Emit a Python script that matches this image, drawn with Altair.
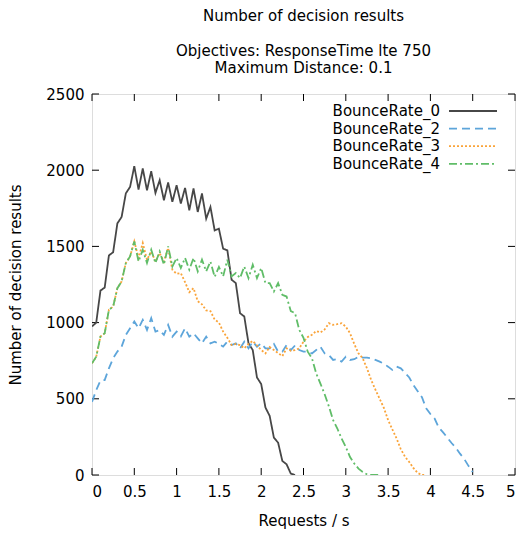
import altair as alt
import pandas as pd

# ---------------- data ----------------
STEP = 0.05
series_names = ["BounceRate_0", "BounceRate_2", "BounceRate_3", "BounceRate_4"]

br0 = [975, 1000, 1210, 1230, 1441, 1462, 1651, 1693, 1848, 1890,
       2026, 1873, 2011, 1868, 1993, 1851, 1934, 1803, 1919, 1792,
       1901, 1781, 1884, 1737, 1880, 1726, 1847, 1682, 1759, 1605,
       1616, 1485, 1474, 1281, 1259, 1062, 1040, 864, 820, 640,
       597, 443, 388, 245, 212, 92, 70, 9, 0]

br2 = [480, 557, 620, 623, 700, 766, 810, 842, 919, 963,
       1007, 963, 1018, 952, 1029, 941, 950, 919, 985, 908,
       941, 910, 963, 908, 930, 897, 864, 908, 864, 875,
       860, 842, 875, 853, 864, 831, 875, 831, 875, 842,
       864, 831, 831, 860, 809, 809, 853, 820, 850, 820,
       809, 809, 798, 820, 842, 798, 787, 755, 760, 744,
       776, 755, 760, 776, 770, 770, 766, 755, 744, 730,
       711, 690, 711, 700, 670, 640, 590, 550, 510, 437,
       400, 370, 310, 280, 245, 210, 180, 140, 105, 60, 20]

br3 = [733, 776, 908, 930, 1084, 1105, 1226, 1270, 1391, 1434,
       1533, 1424, 1522, 1413, 1467, 1401, 1456, 1401, 1490, 1347,
       1320, 1325, 1265, 1200, 1226, 1140, 1120, 1080, 1075, 1020,
       1000, 941, 900, 853, 860, 853, 831, 860, 880, 850,
       820, 798, 840, 820, 800, 780, 831, 815, 820, 831,
       875, 905, 920, 945, 935, 955, 996, 985, 990, 996,
       974, 930, 860, 798, 766, 700, 623, 560, 500, 440,
       360, 300, 240, 170, 120, 85, 45, 13, 0, 0]

br4 = [733, 776, 908, 930, 1084, 1105, 1226, 1270, 1391, 1434,
       1533, 1401, 1478, 1391, 1478, 1391, 1467, 1380, 1500, 1368,
       1424, 1358, 1424, 1347, 1424, 1336, 1413, 1336, 1401, 1300,
       1365, 1303, 1413, 1303, 1325, 1292, 1368, 1292, 1380, 1292,
       1358, 1259, 1259, 1204, 1259, 1182, 1171, 1075, 1062, 952,
       900, 809, 766, 667, 600, 530, 450, 360, 305, 239,
       184, 118, 75, 42, 20, 5, 0, 0, 0]

series_values = [br0, br2, br3, br4]
colors = ["#474747", "#5DA5DA", "#FAA43A", "#60BD68"]
dashes = [[1, 0], [8, 5], [2, 2], [8, 3, 2, 3]]

x_ticks = [0, 0.5, 1, 1.5, 2, 2.5, 3, 3.5, 4, 4.5, 5]
y_ticks = [0, 500, 1000, 1500, 2000, 2500]

title_main = "Number of decision results"
title_sub = ["Objectives: ResponseTime lte 750", "Maximum Distance: 0.1"]

# ---------------- layout ----------------
W, H = 423, 381
FONT = "DejaVu Sans"
FS = 15
TICK = 7

xs = alt.Scale(domain=[0, 5], nice=False, zero=False)
ys = alt.Scale(domain=[0, 2500], nice=False, zero=False)

frames = []
for name, vals in zip(series_names, series_values):
    frames.append(pd.DataFrame({
        "x": [round(i * STEP, 2) for i in range(len(vals))],
        "y": vals,
        "series": name,
    }))

layers = []
base_axes = alt.Chart(pd.DataFrame({"x": [0], "y": [0]})).mark_point(opacity=0).encode(
    x=alt.X("x:Q", scale=xs, axis=alt.Axis(
        values=x_ticks, format="~g", ticks=False, tickSize=0, domain=False, grid=False,
        labelFont=FONT, labelFontSize=FS, labelColor="black", labelPadding=9,
        title="Requests / s", titleFont=FONT, titleFontSize=FS, titleFontWeight="normal",
        titleColor="black", titleY=45, titleBaseline="middle")),
    y=alt.Y("y:Q", scale=ys, axis=alt.Axis(
        values=y_ticks, format="d", ticks=False, tickSize=0, domain=False, grid=False,
        labelFont=FONT, labelFontSize=FS, labelColor="black", labelPadding=8,
        title="Number of decision results", titleFont=FONT, titleFontSize=FS,
        titleFontWeight="normal", titleColor="black", titleX=-77, titleY=H / 2,
        titleBaseline="middle", titleAlign="center")),
)
layers.append(base_axes)

# inward ticks on all four sides
xt = pd.DataFrame({"v": x_ticks})
yt = pd.DataFrame({"v": y_ticks})
layers.append(alt.Chart(xt).mark_rule(color="black", strokeWidth=1).encode(
    x=alt.X("v:Q", scale=xs), y=alt.value(H), y2=alt.value(H - TICK)))
layers.append(alt.Chart(xt).mark_rule(color="black", strokeWidth=1).encode(
    x=alt.X("v:Q", scale=xs), y=alt.value(0), y2=alt.value(TICK)))
layers.append(alt.Chart(yt).mark_rule(color="black", strokeWidth=1).encode(
    y=alt.Y("v:Q", scale=ys), x=alt.value(0), x2=alt.value(TICK)))
layers.append(alt.Chart(yt).mark_rule(color="black", strokeWidth=1).encode(
    y=alt.Y("v:Q", scale=ys), x=alt.value(W), x2=alt.value(W - TICK)))

# data lines
for df, c, d in zip(frames, colors, dashes):
    layers.append(alt.Chart(df).mark_line(color=c, strokeWidth=1.8, strokeDash=d,
                                          clip=True).encode(
        x=alt.X("x:Q", scale=xs), y=alt.Y("y:Q", scale=ys), order="x:Q"))

# legend (label left, line sample right, like gnuplot)
LX_TEXT, LX1, LX2, LY0, LDY = 348, 357, 405, 17, 17.6
for i, (name, c, d) in enumerate(zip(series_names, colors, dashes)):
    ldf = pd.DataFrame({"label": [name]})
    layers.append(alt.Chart(ldf).mark_text(align="right", baseline="middle", font=FONT,
                                           fontSize=FS, color="black").encode(
        text="label:N", x=alt.value(LX_TEXT), y=alt.value(LY0 + i * LDY)))
    layers.append(alt.Chart(ldf).mark_rule(color=c, strokeWidth=1.8, strokeDash=d).encode(
        x=alt.value(LX1), x2=alt.value(LX2), y=alt.value(LY0 + i * LDY)))

chart = alt.layer(*layers).properties(
    width=W, height=H,
    title=alt.TitleParams(text=title_main, subtitle=title_sub, font=FONT, fontSize=FS,
                          fontWeight="normal", color="black",
                          subtitleFont=FONT, subtitleFontSize=FS, subtitleColor="black",
                          subtitleFontWeight="normal", subtitleLineHeight=17.5,
                          subtitlePadding=20, anchor="middle", offset=11),
    autosize=alt.AutoSizeParams(type="none"),
    padding={"left": 92, "top": 94, "right": 8, "bottom": 58},
).configure_view(stroke="black", strokeWidth=1).configure(background="white")

chart.save("out.html", embed_options={"renderer": "svg", "actions": False})
